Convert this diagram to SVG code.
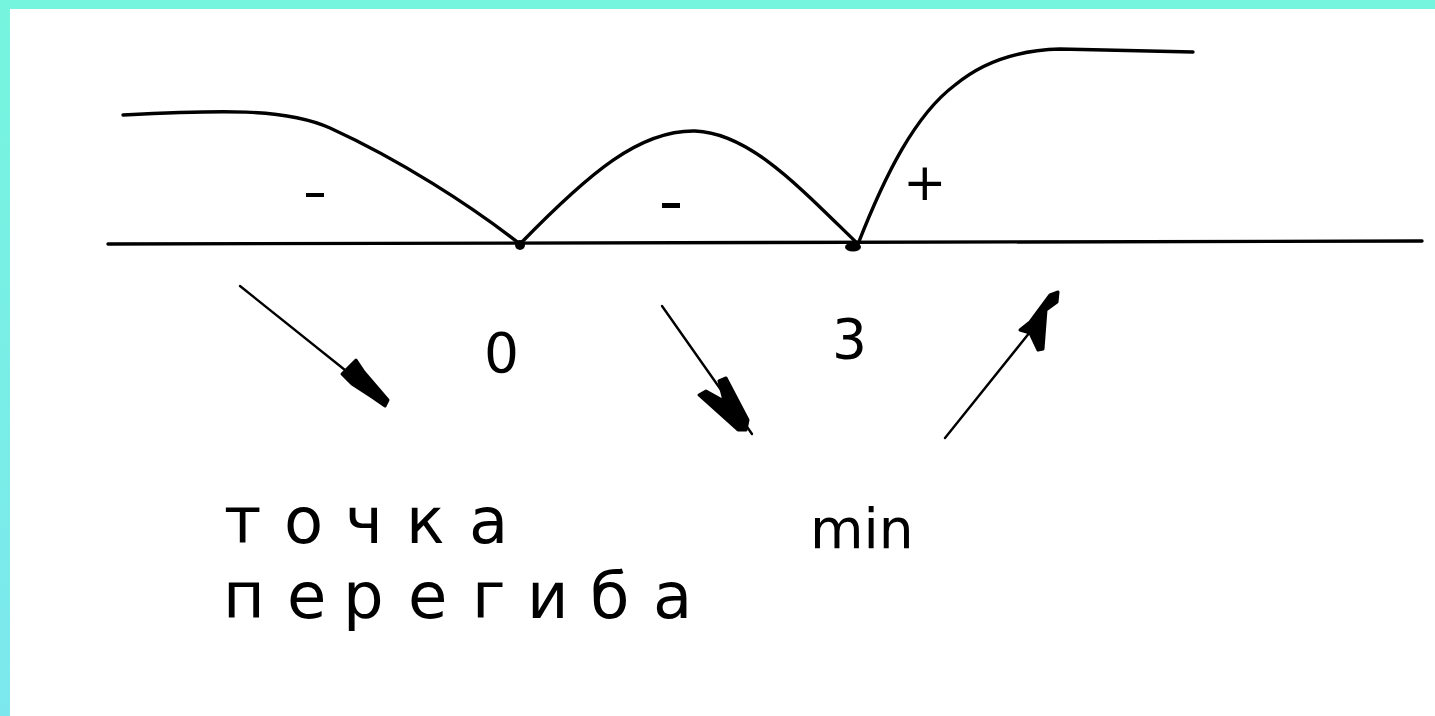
<svg xmlns="http://www.w3.org/2000/svg" width="1435" height="716" viewBox="0 0 1435 716">
<defs>
<linearGradient id="lg" x1="0" y1="0" x2="0" y2="1">
<stop offset="0" stop-color="#76F5DE"/>
<stop offset="1" stop-color="#7CE8EE"/>
</linearGradient>
<style>
.ln{fill:none;stroke:#000;stroke-width:3.4;stroke-linecap:round;stroke-linejoin:round}
.ar{fill:none;stroke:#000;stroke-width:2.4;stroke-linecap:round}
.hd{fill:#000;stroke:#000;stroke-width:3;stroke-linejoin:round}
.t{font-family:"DejaVu Sans","Noto Sans",sans-serif;fill:#000}
</style>
</defs>
<rect x="0" y="0" width="1435" height="716" fill="#fff"/>
<rect x="0" y="0" width="1435" height="9" fill="#76F5DE"/>
<rect x="0" y="0" width="10" height="716" fill="url(#lg)"/>

<g id="axis">
<line class="ln" x1="108" y1="244" x2="1422" y2="241"/>
</g>

<g id="curves">
<path class="ln" d="M123,115 C220,110 285,108 330,128 C400,160 470,205 520,244"/>
<path class="ln" d="M520,244 C590,172 640,130 695,131 C750,133 800,188 858,244"/>
<path class="ln" d="M858,244 C885,175 915,115 955,85 C985,60 1020,50 1060,49 L1193,52"/>
<circle cx="520" cy="245" r="5" fill="#000"/>
<ellipse cx="853" cy="247" rx="8" ry="4.5" fill="#000"/>
</g>

<g id="signs">
<rect x="306" y="193" width="18" height="4" fill="#000"/>
<rect x="662" y="203" width="18" height="5" fill="#000"/>
<text class="t" x="903" y="200" font-size="52">+</text>
</g>

<g id="connectors">
<g id="arrow1">
<line class="ar" x1="240" y1="286" x2="380" y2="398"/>
<polygon class="hd" points="342,374 356,360 364,372 388,400 385,406 372,397 352,384"/>
</g>
<g id="arrow2">
<line class="ar" x1="662" y1="306" x2="752" y2="434"/>
<polygon class="hd" points="699,395 706,391 724,401 719,381 726,378 748,420 746,430 738,430"/>
</g>
<g id="arrow3">
<line class="ar" x1="945" y1="438" x2="1030" y2="332"/>
<polygon class="hd" points="1020,330 1030,322 1050,295 1058,292 1057,302 1046,310 1043,349 1038,350 1030,333"/>
</g>
</g>

<g id="labels">
<text class="t" x="484" y="372" font-size="55">0</text>
<text class="t" x="832" y="358" font-size="55">3</text>
<text class="t" x="810" y="548" font-size="55">min</text>
<text class="t" font-size="64" y="543" x="224 284 345 406 469">точка</text>
<text class="t" font-size="64" y="618" x="223 287 343 408 472 527 590 653">перегиба</text>
</g>
</svg>
